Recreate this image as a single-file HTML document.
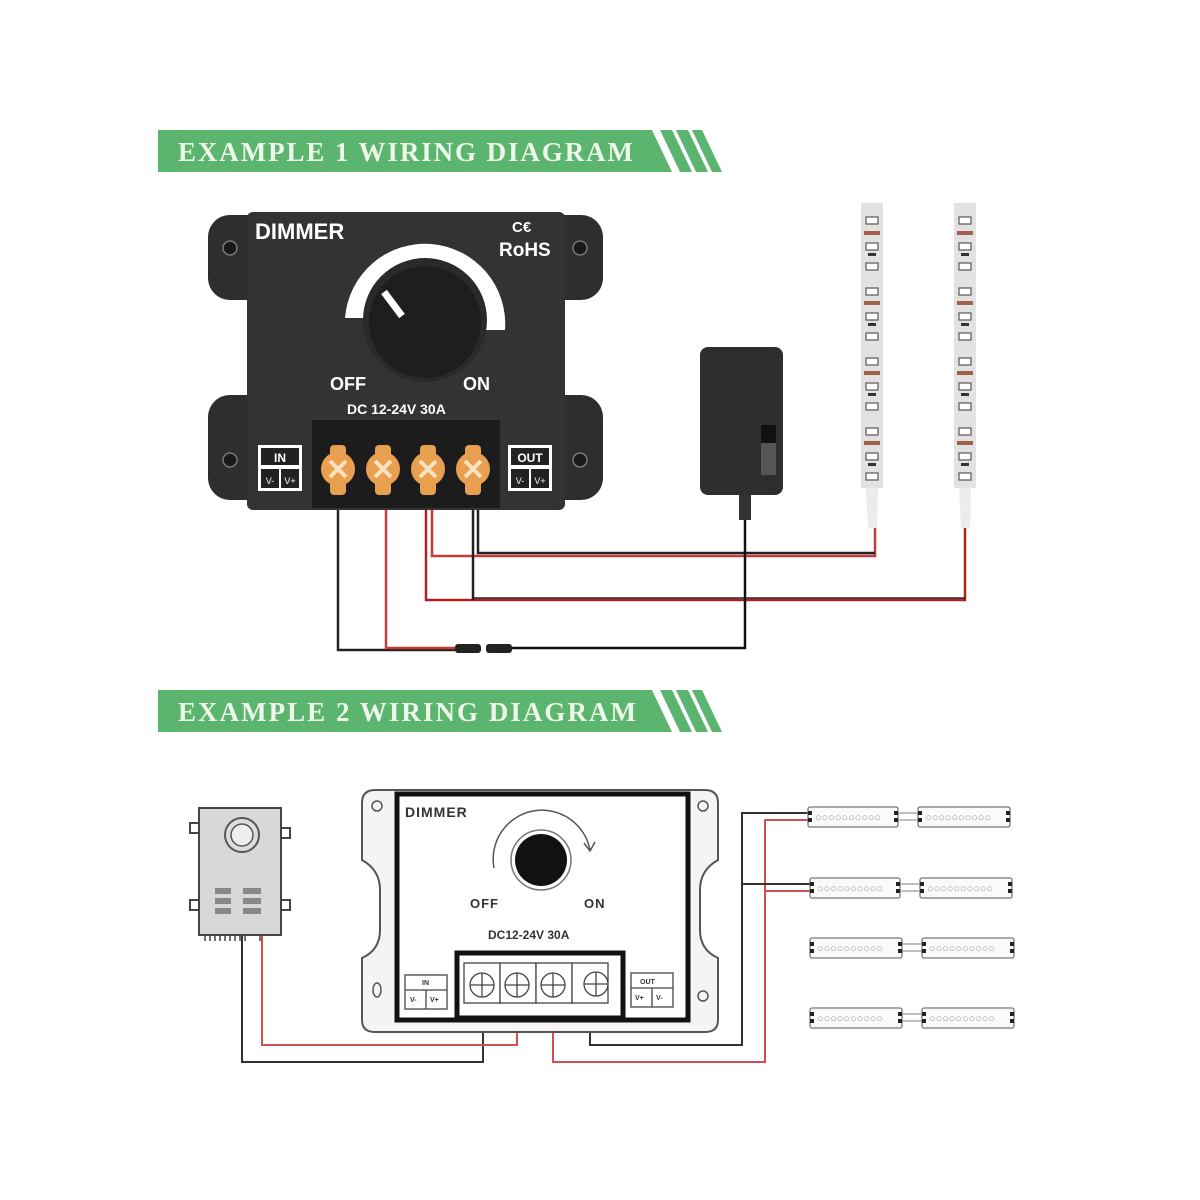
<!DOCTYPE html>
<html><head><meta charset="utf-8"><style>html,body{margin:0;padding:0;background:#fff}svg{display:block}</style></head>
<body>
<svg width="1200" height="1200" viewBox="0 0 1200 1200" xmlns="http://www.w3.org/2000/svg" font-family="Liberation Sans, sans-serif">
<rect width="1200" height="1200" fill="#fff"/>
<!-- Banner 1 -->
<g>
<polygon points="158,130 652,130 672,172 158,172" fill="#5cb56e"/>
<polygon points="660,130 672,130 692,172 680,172" fill="#5cb56e"/>
<polygon points="676,130 688,130 708,172 696,172" fill="#5cb56e"/>
<polygon points="692,130 702,130 722,172 712,172" fill="#5cb56e"/>
<text x="178" y="161" font-family="Liberation Serif, serif" font-size="27" font-weight="bold" fill="#eef7ea" textLength="455">EXAMPLE 1 WIRING DIAGRAM</text>
</g>
<!-- Banner 2 -->
<g>
<polygon points="158,690 652,690 672,732 158,732" fill="#5cb56e"/>
<polygon points="660,690 672,690 692,732 680,732" fill="#5cb56e"/>
<polygon points="676,690 688,690 708,732 696,732" fill="#5cb56e"/>
<polygon points="692,690 702,690 722,732 712,732" fill="#5cb56e"/>
<text x="178" y="721" font-family="Liberation Serif, serif" font-size="27" font-weight="bold" fill="#eef7ea" textLength="458">EXAMPLE 2 WIRING DIAGRAM</text>
</g>

<!-- Example 1 wires -->
<g fill="none" stroke-width="2.5">
<polyline points="338,505 338,650 455,650" stroke="#222"/>
<polyline points="386,505 386,648 455,648" stroke="#c63a3a"/>
<polyline points="426,505 426,600 965,600 965,515" stroke="#b02020"/>
<polyline points="432,505 432,556 875,556 875,525" stroke="#c63a3a"/>
<polyline points="473,505 473,600" stroke="#222"/>
<polyline points="478,505 478,553 875,553" stroke="#222"/>
<line x1="473" y1="598" x2="965" y2="598" stroke="#222" stroke-width="1.5"/>
<polyline points="512,648 745,648 745,500" stroke="#111"/>
</g>
<rect x="455" y="644" width="26" height="9" rx="3" fill="#222"/>
<rect x="486" y="644" width="26" height="9" rx="3" fill="#222"/>

<!-- Dimmer 1 -->
<g>
<rect x="208" y="215" width="395" height="85" rx="22" fill="#2e2e2e"/>
<rect x="208" y="395" width="395" height="105" rx="22" fill="#2e2e2e"/>
<rect x="247" y="212" width="318" height="298" rx="6" fill="#333"/>
<circle cx="230" cy="248" r="7" fill="#1a1a1a" stroke="#777" stroke-width="1.5"/>
<circle cx="580" cy="248" r="7" fill="#1a1a1a" stroke="#777" stroke-width="1.5"/>
<circle cx="230" cy="460" r="7" fill="#1a1a1a" stroke="#777" stroke-width="1.5"/>
<circle cx="580" cy="460" r="7" fill="#1a1a1a" stroke="#777" stroke-width="1.5"/>
<text x="255" y="239" font-size="22" font-weight="bold" fill="#fff">DIMMER</text>
<text x="512" y="232" font-size="15" font-weight="bold" fill="#fff">C€</text>
<text x="499" y="256" font-size="19" font-weight="bold" fill="#fff">RoHS</text>
<path d="M345,318 A80,80 0 0 1 505,330 L482,330 A57,57 0 0 0 368,318 Z" fill="#fff"/>
<circle cx="425" cy="320" r="62" fill="#2a2a2a"/>
<circle cx="425" cy="322" r="56" fill="#1e1e1e"/>
<line x1="384" y1="292" x2="402" y2="316" stroke="#fff" stroke-width="7" stroke-linecap="butt"/>
<text x="330" y="390" font-size="18" font-weight="bold" fill="#fff">OFF</text>
<text x="463" y="390" font-size="18" font-weight="bold" fill="#fff">ON</text>
<text x="347" y="414" font-size="14" font-weight="bold" fill="#fff">DC 12-24V 30A</text>
<rect x="312" y="420" width="188" height="88" fill="#1c1c1c"/>
<g fill="#fff"><rect x="258" y="445" width="44" height="46"/><rect x="508" y="445" width="44" height="46"/></g>
<rect x="261" y="448" width="38" height="17" fill="#222"/><rect x="261" y="469" width="18" height="19" fill="#222"/><rect x="281" y="469" width="18" height="19" fill="#222"/>
<rect x="511" y="448" width="38" height="17" fill="#222"/><rect x="511" y="469" width="18" height="19" fill="#222"/><rect x="531" y="469" width="18" height="19" fill="#222"/>
<text x="280" y="462" font-size="12" font-weight="bold" fill="#fff" text-anchor="middle">IN</text>
<text x="530" y="462" font-size="12" font-weight="bold" fill="#fff" text-anchor="middle">OUT</text>
<text x="270" y="484" font-size="9" fill="#fff" text-anchor="middle">V-</text><text x="290" y="484" font-size="9" fill="#fff" text-anchor="middle">V+</text>
<text x="520" y="484" font-size="9" fill="#fff" text-anchor="middle">V-</text><text x="540" y="484" font-size="9" fill="#fff" text-anchor="middle">V+</text>
<g fill="#e8a050">
<rect x="330" y="445" width="16" height="50" rx="4"/><circle cx="338" cy="469" r="17"/>
<rect x="375" y="445" width="16" height="50" rx="4"/><circle cx="383" cy="469" r="17"/>
<rect x="420" y="445" width="16" height="50" rx="4"/><circle cx="428" cy="469" r="17"/>
<rect x="465" y="445" width="16" height="50" rx="4"/><circle cx="473" cy="469" r="17"/>
</g>
<g stroke="#fbe2c0" stroke-width="4">
<path d="M330,461 l16,16 M346,461 l-16,16"/><path d="M375,461 l16,16 M391,461 l-16,16"/>
<path d="M420,461 l16,16 M436,461 l-16,16"/><path d="M465,461 l16,16 M481,461 l-16,16"/>
</g>
</g>

<!-- Adapter -->
<rect x="700" y="347" width="83" height="148" rx="8" fill="#2e2e2e"/>
<rect x="761" y="425" width="15" height="50" fill="#555"/><rect x="761" y="425" width="15" height="18" fill="#111"/>
<rect x="739" y="495" width="12" height="25" fill="#333"/>

<!-- LED strips 1 -->
<g>
<rect x="861" y="203" width="22" height="285" fill="#e2e2e2"/>
<polygon points="866,488 878,488 877,528 868,528" fill="#ececec"/>
<rect x="954" y="203" width="22" height="285" fill="#e2e2e2"/>
<polygon points="959,488 971,488 970,528 961,528" fill="#ececec"/>
<g fill="#fff" stroke="#555" stroke-width="1.2">
<rect x="866" y="217" width="12" height="7"/><rect x="866" y="243" width="12" height="7"/><rect x="866" y="263" width="12" height="7"/>
<rect x="866" y="288" width="12" height="7"/><rect x="866" y="313" width="12" height="7"/><rect x="866" y="333" width="12" height="7"/>
<rect x="866" y="358" width="12" height="7"/><rect x="866" y="383" width="12" height="7"/><rect x="866" y="403" width="12" height="7"/>
<rect x="866" y="428" width="12" height="7"/><rect x="866" y="453" width="12" height="7"/><rect x="866" y="473" width="12" height="7"/>
<rect x="959" y="217" width="12" height="7"/><rect x="959" y="243" width="12" height="7"/><rect x="959" y="263" width="12" height="7"/>
<rect x="959" y="288" width="12" height="7"/><rect x="959" y="313" width="12" height="7"/><rect x="959" y="333" width="12" height="7"/>
<rect x="959" y="358" width="12" height="7"/><rect x="959" y="383" width="12" height="7"/><rect x="959" y="403" width="12" height="7"/>
<rect x="959" y="428" width="12" height="7"/><rect x="959" y="453" width="12" height="7"/><rect x="959" y="473" width="12" height="7"/>
</g>
<g fill="#a0604a">
<rect x="864" y="231" width="16" height="4"/><rect x="864" y="301" width="16" height="4"/><rect x="864" y="371" width="16" height="4"/><rect x="864" y="441" width="16" height="4"/>
<rect x="957" y="231" width="16" height="4"/><rect x="957" y="301" width="16" height="4"/><rect x="957" y="371" width="16" height="4"/><rect x="957" y="441" width="16" height="4"/>
</g>
<g fill="#333">
<rect x="868" y="253" width="8" height="3"/><rect x="868" y="323" width="8" height="3"/><rect x="868" y="393" width="8" height="3"/><rect x="868" y="463" width="8" height="3"/>
<rect x="961" y="253" width="8" height="3"/><rect x="961" y="323" width="8" height="3"/><rect x="961" y="393" width="8" height="3"/><rect x="961" y="463" width="8" height="3"/>
</g>
</g>

<!-- Example 2 wires -->
<g fill="none" stroke-width="2">
<polyline points="242,935 242,1062 483,1062 483,1005" stroke="#333"/>
<polyline points="262,935 262,1045 517,1045 517,1005" stroke="#d05050"/>
<polyline points="553,1005 553,1062 765,1062 765,820 808,820" stroke="#d05050"/>
<polyline points="590,1005 590,1045 742,1045 742,813 808,813" stroke="#333"/>
<polyline points="742,884 810,884 M742,944 810,944 M742,1014 810,1014" stroke="#333"/>
<polyline points="765,891 810,891 M765,951 810,951 M765,1021 810,1021" stroke="#d05050"/>
</g>

<!-- LED modules 2 -->
<g fill="#fafafa" stroke="#777" stroke-width="1.3">
<rect x="808" y="807" width="90" height="20" rx="2"/><rect x="918" y="807" width="92" height="20" rx="2"/>
<rect x="810" y="878" width="90" height="20" rx="2"/><rect x="920" y="878" width="92" height="20" rx="2"/>
<rect x="810" y="938" width="92" height="20" rx="2"/><rect x="922" y="938" width="92" height="20" rx="2"/>
<rect x="810" y="1008" width="92" height="20" rx="2"/><rect x="922" y="1008" width="92" height="20" rx="2"/>
</g>
<g stroke="#999" stroke-width="1.2">
<path d="M898,813 h20 M898,820 h20 M900,884 h20 M900,891 h20 M902,944 h20 M902,951 h20 M902,1014 h20 M902,1021 h20"/>
</g>
<g fill="#222">
<rect x="808" y="811" width="4" height="4"/><rect x="808" y="818" width="4" height="4"/><rect x="894" y="811" width="4" height="4"/><rect x="894" y="818" width="4" height="4"/><rect x="918" y="811" width="4" height="4"/><rect x="918" y="818" width="4" height="4"/><rect x="1006" y="811" width="4" height="4"/><rect x="1006" y="818" width="4" height="4"/>
<rect x="810" y="882" width="4" height="4"/><rect x="810" y="889" width="4" height="4"/><rect x="896" y="882" width="4" height="4"/><rect x="896" y="889" width="4" height="4"/><rect x="920" y="882" width="4" height="4"/><rect x="920" y="889" width="4" height="4"/><rect x="1008" y="882" width="4" height="4"/><rect x="1008" y="889" width="4" height="4"/>
<rect x="810" y="942" width="4" height="4"/><rect x="810" y="949" width="4" height="4"/><rect x="898" y="942" width="4" height="4"/><rect x="898" y="949" width="4" height="4"/><rect x="922" y="942" width="4" height="4"/><rect x="922" y="949" width="4" height="4"/><rect x="1010" y="942" width="4" height="4"/><rect x="1010" y="949" width="4" height="4"/>
<rect x="810" y="1012" width="4" height="4"/><rect x="810" y="1019" width="4" height="4"/><rect x="898" y="1012" width="4" height="4"/><rect x="898" y="1019" width="4" height="4"/><rect x="922" y="1012" width="4" height="4"/><rect x="922" y="1019" width="4" height="4"/><rect x="1010" y="1012" width="4" height="4"/><rect x="1010" y="1019" width="4" height="4"/>
</g>
<g font-size="11" fill="#999" font-family="Liberation Mono, monospace">
<text x="815" y="821">○○○○○○○○○○</text><text x="925" y="821">○○○○○○○○○○</text>
<text x="817" y="892">○○○○○○○○○○</text><text x="927" y="892">○○○○○○○○○○</text>
<text x="817" y="952">○○○○○○○○○○</text><text x="929" y="952">○○○○○○○○○○</text>
<text x="817" y="1022">○○○○○○○○○○</text><text x="929" y="1022">○○○○○○○○○○</text>
</g>

<!-- Power supply 2 -->
<g>
<rect x="190" y="823" width="10" height="10" fill="none" stroke="#444" stroke-width="2"/>
<rect x="280" y="828" width="10" height="10" fill="none" stroke="#444" stroke-width="2"/>
<rect x="190" y="900" width="10" height="10" fill="none" stroke="#444" stroke-width="2"/>
<rect x="280" y="900" width="10" height="10" fill="none" stroke="#444" stroke-width="2"/>
<rect x="199" y="808" width="82" height="127" fill="#d8d8d8" stroke="#444" stroke-width="2"/>
<circle cx="242" cy="835" r="17" fill="#ddd" stroke="#555" stroke-width="2"/>
<circle cx="242" cy="835" r="11" fill="#eee" stroke="#555" stroke-width="1.5"/>
<g fill="#888"><rect x="215" y="888" width="16" height="6"/><rect x="243" y="888" width="18" height="6"/><rect x="215" y="898" width="16" height="6"/><rect x="243" y="898" width="18" height="6"/><rect x="215" y="908" width="16" height="6"/><rect x="243" y="908" width="18" height="6"/></g>
<g stroke="#444" stroke-width="1.5"><path d="M205,935 v6 M210,935 v6 M215,935 v6 M220,935 v6 M225,935 v6 M230,935 v6 M235,935 v6 M240,935 v6 M245,935 v6 M260,935 v6"/></g>
</g>

<!-- Dimmer 2 -->
<g>
<path d="M375,790 L705,790 Q718,790 718,803 L718,860 Q700,870 700,890 L700,930 Q700,950 718,958 L718,1020 Q718,1032 705,1032 L375,1032 Q362,1032 362,1020 L362,958 Q380,950 380,930 L380,890 Q380,870 362,860 L362,803 Q362,790 375,790 Z" fill="#f4f4f4" stroke="#555" stroke-width="2"/>
<circle cx="377" cy="806" r="5" fill="none" stroke="#555" stroke-width="1.5"/>
<circle cx="703" cy="806" r="5" fill="none" stroke="#555" stroke-width="1.5"/>
<ellipse cx="377" cy="990" rx="4" ry="7" fill="none" stroke="#555" stroke-width="1.5"/>
<circle cx="703" cy="996" r="5" fill="none" stroke="#555" stroke-width="1.5"/>
<rect x="397" y="794" width="291" height="226" fill="#fff" stroke="#111" stroke-width="5"/>
<text x="405" y="817" font-size="14" font-weight="bold" fill="#333" letter-spacing="1">DIMMER</text>
<path d="M494,868 A48,48 0 0 1 590,850" fill="none" stroke="#555" stroke-width="1.5"/>
<path d="M584,843 L590,851 L595,842" fill="none" stroke="#555" stroke-width="1.5"/>
<circle cx="541" cy="860" r="30" fill="#fff" stroke="#777" stroke-width="1.5"/>
<circle cx="541" cy="860" r="26" fill="#111"/>
<text x="470" y="908" font-size="13" font-weight="bold" fill="#333" letter-spacing="1">OFF</text>
<text x="584" y="908" font-size="13" font-weight="bold" fill="#333" letter-spacing="1">ON</text>
<text x="488" y="939" font-size="12" font-weight="bold" fill="#333">DC12-24V 30A</text>
<rect x="457" y="953" width="166" height="65" fill="#fff" stroke="#111" stroke-width="5"/>
<g fill="#fff" stroke="#444" stroke-width="1.3">
<rect x="464" y="963" width="36" height="40"/><rect x="500" y="963" width="36" height="40"/><rect x="536" y="963" width="36" height="40"/><rect x="572" y="963" width="36" height="40"/>
<circle cx="482" cy="985" r="12"/><circle cx="517" cy="985" r="12"/><circle cx="553" cy="985" r="12"/><circle cx="596" cy="984" r="12"/>
<path d="M470,985 h24 M482,973 v24 M505,985 h24 M517,973 v24 M541,985 h24 M553,973 v24 M584,984 h24 M596,972 v24"/>
<rect x="405" y="975" width="42" height="34"/><rect x="631" y="973" width="42" height="34"/>
<path d="M405,990 h42 M426,990 v19 M631,988 h42 M652,988 v19"/>
</g>
<g font-size="7" font-weight="bold" fill="#333">
<text x="422" y="985">IN</text><text x="640" y="984">OUT</text>
<text x="410" y="1002">V-</text><text x="430" y="1002">V+</text><text x="635" y="1000">V+</text><text x="656" y="1000">V-</text>
</g>
</g>
</svg>
</body></html>
